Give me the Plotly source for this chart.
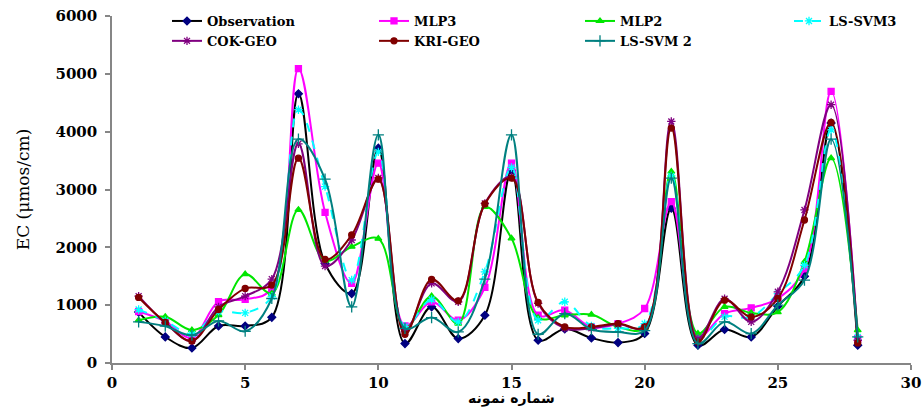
import plotly.graph_objects as go

# Sample index (1..28)
sample = list(range(1, 29))

observation = [880, 451, 260, 640, 640, 790, 4655, 1720, 1200, 3715, 336, 971, 422, 826,
               3328, 393, 590, 433, 353, 510, 2676, 306, 580, 451, 980, 1500, 4150, 307]
mlp3 = [890, 720, 430, 1060, 1100, 1280, 5090, 2606, 1376, 3455, 640, 1058, 740, 1306,
        3455, 826, 913, 620, 680, 942, 2790, 451, 855, 953, 1116, 1630, 4697, 420]
mlp2 = [740, 800, 570, 830, 1537, 1200, 2650, 1770, 2011, 2150, 600, 1156, 682, 2700,
        2156, 780, 826, 838, 624, 600, 3310, 509, 971, 866, 880, 1750, 3542, 567]
ls_svm3 = [924, 730, 500, 884, 867, 1150, 4380, 3050, 1434, 3650, 630, 1097, 711, 1577,
           3380, 740, 1058, 640, 600, 680, 3235, 420, 797, 797, 1200, 1690, 4033, 450]
cok_geo = [1156, 694, 382, 971, 1156, 1450, 3790, 1676, 2127, 3200, 540, 1376, 1058, 2760,
           3220, 1030, 600, 600, 670, 620, 4177, 420, 1110, 711, 1231, 2646, 4466, 393]
kri_geo = [1133, 700, 382, 925, 1289, 1347, 3542, 1792, 2213, 3178, 497, 1445, 1075, 2750,
           3195, 1046, 624, 624, 682, 624, 4062, 364, 1087, 797, 1116, 2473, 4160, 347]
ls_svm2 = [711, 636, 480, 728, 549, 1115, 3871, 3178, 971, 3946, 600, 786, 537, 1450,
           3946, 497, 855, 578, 537, 560, 3195, 335, 711, 509, 1000, 1433, 3871, 451]

x_ticks = [0, 5, 10, 15, 20, 25, 30]
y_ticks = [0, 1000, 2000, 3000, 4000, 5000, 6000]

# name, values, line colour, marker symbol, marker size, marker colour, dash, legend column
series = [
    ("Observation", observation, "#000000", "diamond", 6, "#000080", "solid", "legend"),
    ("MLP3", mlp3, "#FF00FF", "square", 6, "#FF00FF", "solid", "legend2"),
    ("MLP2", mlp2, "#00E600", "triangle-up", 6, "#00E600", "solid", "legend3"),
    ("LS-SVM3", ls_svm3, "#00FFFF", "asterisk-open", 7, "#00FFFF", "dash", "legend4"),
    ("COK-GEO", cok_geo, "#800080", "asterisk-open", 7, "#800080", "solid", "legend"),
    ("KRI-GEO", kri_geo, "#800000", "circle", 6, "#800000", "solid", "legend2"),
    ("LS-SVM 2", ls_svm2, "#008080", "cross-thin-open", 8, "#008080", "solid", "legend3"),
]

fig = go.Figure()
for name, vals, lc, sym, ms, mc, dash, leg in series:
    fig.add_trace(go.Scatter(
        x=sample, y=vals, name=name, mode="lines+markers",
        line=dict(color=lc, width=2, shape="spline", smoothing=1.0, dash=dash),
        marker=dict(symbol=sym, size=ms, color=mc, line=dict(color=mc, width=1.3)),
        legend=leg,
    ))

PLOT_L, PLOT_W, PLOT_H = 112, 799, 347
leg_font = dict(family="DejaVu Serif", size=13, color="#000000", weight="bold")
leg_common = dict(orientation="v", yanchor="top", xanchor="left", y=1 + 10 / PLOT_H,
                  bgcolor="rgba(0,0,0,0)", font=leg_font, tracegroupgap=0)
text_starts = [209, 416, 622, 831]
leg_x = [(t - 42 - PLOT_L) / PLOT_W for t in text_starts]

fig.update_layout(
    width=924, height=407,
    margin=dict(l=PLOT_L, r=13, t=16, b=44, autoexpand=False),
    paper_bgcolor="white", plot_bgcolor="white",
    showlegend=True,
    legend=dict(x=leg_x[0], **leg_common),
    legend2=dict(x=leg_x[1], **leg_common),
    legend3=dict(x=leg_x[2], **leg_common),
    legend4=dict(x=leg_x[3], **leg_common),
    xaxis=dict(
        range=[0, 30], tickvals=x_ticks, ticktext=[str(v) for v in x_ticks],
        showgrid=False, zeroline=False, showline=True, linecolor="#868686", linewidth=1.5,
        ticks="outside", ticklen=5, tickcolor="#868686", tickwidth=1.5,
        tickfont=dict(family="DejaVu Serif", size=15, color="#000000", weight="bold"),
        title=dict(text="شماره نمونه", standoff=2,
                   font=dict(family="DejaVu Sans", size=14, color="#000000", weight="bold")),
        automargin=False,
    ),
    yaxis=dict(
        range=[0, 6000], tickvals=y_ticks, ticktext=[str(v) for v in y_ticks],
        showgrid=False, zeroline=False, showline=True, linecolor="#868686", linewidth=1.5,
        ticks="outside", ticklen=5, tickcolor="#868686", tickwidth=1.5,
        ticklabelstandoff=5,
        tickfont=dict(family="DejaVu Serif", size=15, color="#000000", weight="bold"),
        title=dict(text="EC (μmos/cm)", standoff=22,
                   font=dict(family="DejaVu Serif", size=17, color="#000000")),
        automargin=False,
    ),
)

fig.write_html("out.html")
